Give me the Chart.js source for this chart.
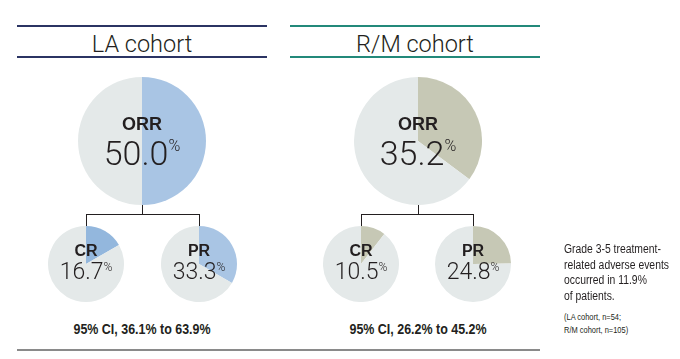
<!DOCTYPE html>
<html>
<head>
<meta charset="utf-8">
<script src="https://cdn.jsdelivr.net/npm/chart.js@4"></script>
<style>
  body { margin: 0; background: #fff; width: 680px; height: 359px; position: relative; overflow: hidden;
         font-family: "Liberation Sans", Arial, sans-serif; color: #231f20; }
  .abs { position: absolute; white-space: nowrap; }
  .hline { position: absolute; height: 2px; }
  .title { position: absolute; width: 250px; text-align: center; font-size: 23.5px; top: 30px; line-height: 28px;
           font-family: Roboto, "Liberation Sans", sans-serif; font-weight: 300; }
  .lbl { position: absolute; text-align: center; pointer-events: none; white-space: nowrap; }
  .lbl b { display: block; font-weight: bold; }
  .lbl .num { font-family: Roboto, "Liberation Sans", sans-serif; font-weight: 300; }
  .lbl sup { font-weight: 300; vertical-align: top; font-family: Roboto, sans-serif; position: relative; }
  .narrow { font-family: "Liberation Sans", Arial, sans-serif; transform: scaleX(0.83); transform-origin: left top; }
</style>
</head>
<body>
<div class="hline" style="left:17px;width:250px;top:25px;background:#2b3463"></div>
<div class="hline" style="left:17px;width:250px;top:56px;background:#2b3463"></div>
<div class="hline" style="left:290px;width:250px;top:25px;background:#23897a"></div>
<div class="hline" style="left:290px;width:250px;top:56px;background:#23897a"></div>
<div class="title" style="left:17px">LA cohort</div>
<div class="title" style="left:290px">R/M cohort</div>
<div class="hline" style="left:17px;width:523px;top:349px;background:#8a8a8a"></div>
<div id="stage"></div>
<div class="abs narrow" style="left:564px;top:242px;font-size:12.5px;line-height:15.5px;">Grade 3-5 treatment-<br>related adverse events<br>occurred in 11.9%<br>of patients.</div>
<div class="abs narrow" style="left:564px;top:311px;font-size:9px;line-height:13px;">(LA cohort, n=54;<br>R/M cohort, n=105)</div>

<script>
const cohorts = ['LA cohort', 'R/M cohort'];
const measures = ['ORR', 'CR', 'PR'];
const laValues = [50.0, 16.7, 33.3];
const rmValues = [35.2, 10.5, 24.8];
const ciText = ['95% CI, 36.1% to 63.9%', '95% CI, 26.2% to 45.2%'];

const restColor = '#e4e9e9';
const laColors = ['#a9c5e4', '#93b7dd', '#a9c5e4'];
const rmColors = ['#c6c8b5', '#c6c8b5', '#c6c8b5'];

// layout per cohort: ORR center, CR center, PR center
const layout = [
  { orr: [142, 141], cr: [86, 264], pr: [199, 264] },
  { orr: [418, 141], cr: [361, 264], pr: [473, 264] }
];
const bigR = 64, smallR = 38;
const stage = document.getElementById('stage');

function addPie(cx, cy, r, value, color) {
  const c = document.createElement('canvas');
  c.width = 2 * r; c.height = 2 * r;
  c.style.cssText = `position:absolute;left:${cx - r}px;top:${cy - r}px;width:${2*r}px;height:${2*r}px`;
  stage.appendChild(c);
  new Chart(c, {
    type: 'pie',
    data: {
      labels: ['response', 'rest'],
      datasets: [{ data: [value, 100 - value], backgroundColor: [color, restColor], borderWidth: 0 }]
    },
    options: {
      responsive: false, animation: false,
      layout: { padding: 0 },
      plugins: { legend: { display: false }, tooltip: { enabled: false } }
    }
  });
}

function addLabel(cx, cy, name, value, big) {
  const d = document.createElement('div');
  d.className = 'lbl';
  const w = 140;
  const nameSize = big ? 18 : 16;
  const numSize = big ? 34 : 23;
  const supSize = big ? 16 : 12;
  d.style.cssText = `left:${cx - w/2}px;width:${w}px;top:${cy - (big ? 26 : 21)}px;line-height:1`;
  d.innerHTML = `<b style="font-size:${nameSize}px;margin-bottom:${big ? 3 : 1}px">${name}</b>` +
    `<span class="num" style="font-size:${numSize}px">${value.toFixed(1)}</span><sup style="font-size:${supSize}px;top:${big ? 2 : 1}px">%</sup>`;
  stage.appendChild(d);
}

function addLine(x, y, w, h) {
  const d = document.createElement('div');
  d.style.cssText = `position:absolute;left:${x}px;top:${y}px;width:${w}px;height:${h}px;background:#231f20`;
  stage.appendChild(d);
}

cohorts.forEach((name, i) => {
  const vals = i === 0 ? laValues : rmValues;
  const cols = i === 0 ? laColors : rmColors;
  const L = layout[i];
  // connector tree
  addLine(L.orr[0], L.orr[1] + bigR, 1, 9);
  addLine(L.cr[0], 214, L.pr[0] - L.cr[0] + 1, 1);
  addLine(L.cr[0], 214, 1, 12);
  addLine(L.pr[0], 214, 1, 12);
  addPie(L.orr[0], L.orr[1], bigR, vals[0], cols[0]);
  addPie(L.cr[0], L.cr[1], smallR, vals[1], cols[1]);
  addPie(L.pr[0], L.pr[1], smallR, vals[2], cols[2]);
  addLabel(L.orr[0], L.orr[1], measures[0], vals[0], true);
  addLabel(L.cr[0], L.cr[1], measures[1], vals[1], false);
  addLabel(L.pr[0], L.pr[1], measures[2], vals[2], false);
  const ci = document.createElement('div');
  ci.className = 'abs';
  ci.style.cssText = `left:${L.orr[0] - 100}px;width:200px;text-align:center;top:320px;font-size:15px;font-weight:bold;transform:scaleX(0.83);transform-origin:center top;`;
  ci.textContent = ciText[i];
  stage.appendChild(ci);
});
</script>
</body>
</html>
